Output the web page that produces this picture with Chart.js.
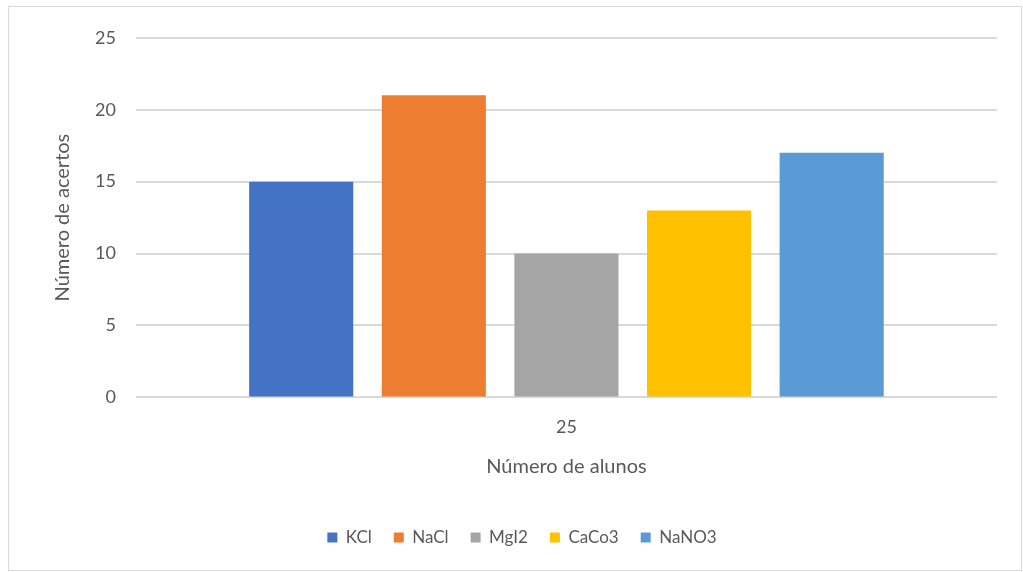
<!DOCTYPE html>
<html>
<head>
<meta charset="utf-8">
<script src="https://cdn.jsdelivr.net/npm/chart.js@4"></script>
<style>
	body { margin: 0; background: #fff; }
	#frame { position: absolute; left: 8px; top: 6px; width: 1012px; height: 563px; border: 1px solid #d9d9d9; }
	#cvs { display: block; }
</style>
</head>
<body>
<div id="frame"><canvas id="cvs" width="1012" height="563"></canvas></div>
<script>
var categories = ["25"];
var seriesNames = ["KCl", "NaCl", "MgI2", "CaCo3", "NaNO3"];
var seriesValues = [[15], [21], [10], [13], [17]];
var seriesColors = ["#4472c4", "#ed7d31", "#a5a5a5", "#ffc000", "#5b9bd5"];
var yTicks = [0, 5, 10, 15, 20, 25];

var textColor = "#595959";
var fontFamily = "Lato, 'Open Sans', sans-serif";

var datasets = [];
for (var i = 0; i < seriesNames.length; i++) {
	datasets.push({
		label: seriesNames[i],
		data: seriesValues[i],
		backgroundColor: seriesColors[i],
		categoryPercentage: 0.77,
		barPercentage: 0.785
	});
}

var config = {
	type: "bar",
	data: {
		labels: categories,
		datasets: datasets
	},
	options: {
		responsive: false,
		animation: false,
		layout: {
			padding: { left: 38, right: 24, top: 14, bottom: 14 }
		},
		plugins: {
			legend: {
				position: "bottom",
				labels: {
					boxWidth: 10,
					boxHeight: 10,
					padding: 22,
					color: textColor,
					font: { family: fontFamily, size: 17 }
				}
			},
			tooltip: { enabled: false }
		},
		scales: {
			x: {
				grid: { display: false },
				border: { display: false },
				ticks: { color: textColor, font: { family: fontFamily, size: 18 }, padding: 11 },
				title: {
					display: true,
					text: "Número de alunos",
					color: textColor,
					font: { family: fontFamily, size: 20 },
					padding: { top: 6, bottom: 28 }
				}
			},
			y: {
				min: 0,
				max: 25,
				afterBuildTicks: function (axis) {
					axis.ticks = yTicks.map(function (v) { return { value: v }; });
				},
				grid: { color: "#d9d9d9", lineWidth: 2, drawTicks: false },
				border: { display: false },
				ticks: { color: textColor, font: { family: fontFamily, size: 18 }, padding: 20 },
				title: {
					display: true,
					text: "Número de acertos",
					color: textColor,
					font: { family: fontFamily, size: 20 },
					padding: { bottom: 0 }
				}
			}
		}
	}
};

var chart = new Chart("cvs", config);
</script>
</body>
</html>
